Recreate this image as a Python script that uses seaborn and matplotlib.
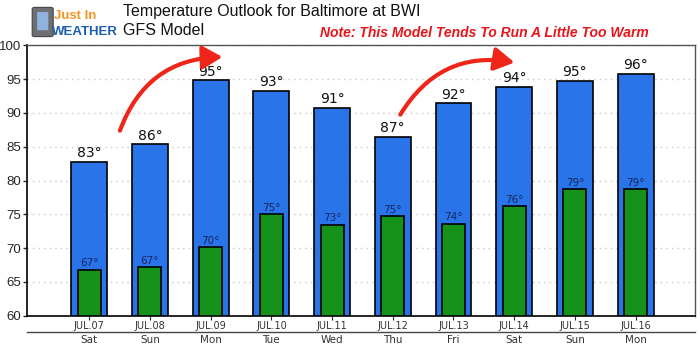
import pandas as pd
import seaborn as sns
import matplotlib.pyplot as plt
from matplotlib.patches import FancyArrowPatch, FancyBboxPatch

# Forecast values
dates = ['JUL.07', 'JUL.08', 'JUL.09', 'JUL.10', 'JUL.11',
         'JUL.12', 'JUL.13', 'JUL.14', 'JUL.15', 'JUL.16']
days = ['Sat', 'Sun', 'Mon', 'Tue', 'Wed', 'Thu', 'Fri', 'Sat', 'Sun', 'Mon']
highs = [82.8, 85.4, 94.9, 93.3, 90.8, 86.5, 91.5, 93.9, 94.8, 95.8]
lows = [66.8, 67.2, 70.1, 75.0, 73.5, 74.7, 73.6, 76.2, 78.7, 78.7]
high_labels = [83, 86, 95, 93, 91, 87, 92, 94, 95, 96]
low_labels = [67, 67, 70, 75, 73, 75, 74, 76, 79, 79]

df = pd.DataFrame({'date': dates, 'day': days, 'high': highs, 'low': lows})

sns.set_style('white')
plt.rcParams['font.family'] = ['DejaVu Sans']

fig = plt.figure(figsize=(7, 3.52), dpi=100)
ax = fig.add_axes([0.039, 0.103, 0.954, 0.768])

sns.barplot(data=df, x='date', y='high', color='#2a74ea', saturation=1,
            width=0.59, edgecolor='black', linewidth=1.2, ax=ax)
sns.barplot(data=df, x='date', y='low', color='#15921a', saturation=1,
            width=0.38, edgecolor='black', linewidth=1.2, ax=ax)

ax.set_ylim(60, 100)
ax.set_xlim(-1.02, 9.98)
ax.set_yticks(range(60, 101, 5))
ax.yaxis.grid(True, linestyle=(0, (1, 3)), color='#c8c8c8', linewidth=1)
ax.set_axisbelow(True)
ax.set_xlabel('')
ax.set_ylabel('')

for sp in ['left', 'bottom']:
    ax.spines[sp].set_color('black')
    ax.spines[sp].set_linewidth(1.2)
for sp in ['top', 'right']:
    ax.spines[sp].set_color('#555555')
    ax.spines[sp].set_linewidth(1)

ax.tick_params(axis='y', left=True, length=3, width=1, labelsize=9.5, pad=1.5)
for t in ax.get_yticklabels():
    t.set_family('Liberation Sans')
ax.tick_params(axis='x', bottom=True, length=3, width=0.8, labelsize=7, pad=1,
               labelcolor='#333333')

# value labels
for i in range(len(dates)):
    ax.text(i, highs[i] + 0.2, f"{high_labels[i]}\u00b0", ha='center',
            va='bottom', fontsize=10, color='#111111')
    ax.text(i, lows[i] + 0.2, f"{low_labels[i]}\u00b0", ha='center',
            va='bottom', fontsize=7.5, color='#15265e')

# second row of labels: day names
sec = ax.secondary_xaxis(-0.06)
sec.set_xticks(range(len(days)))
sec.set_xticklabels(days)
sec.tick_params(length=0, labelsize=7.5, pad=2.5, labelcolor='#333333')
sec.spines['bottom'].set_color('#444444')
sec.spines['bottom'].set_linewidth(1)

# red curved arrows
for (x0, y0), (x1, y1) in [((0.49, 87.0), (2.24, 98.3)), ((5.10, 89.4), (7.05, 97.4))]:
    arr = FancyArrowPatch((x0, y0), (x1, y1), connectionstyle='arc3,rad=-0.35',
                          arrowstyle='-|>,head_length=6,head_width=3.5',
                          color='#ee2518', linewidth=3, mutation_scale=2,
                          clip_on=False, zorder=5)
    ax.add_patch(arr)

# header
fig.text(0.176, 0.968, 'Temperature Outlook for Baltimore at BWI',
         fontsize=11.5, family='Liberation Sans', va='center', color='#111111')
fig.text(0.176, 0.912, 'GFS Model', fontsize=11.5, family='Liberation Sans',
         va='center', color='#111111')
fig.text(0.927, 0.905, 'Note: This Model Tends To Run A Little Too Warm',
         fontsize=10, family='Liberation Sans', fontweight='bold',
         fontstyle='italic', color='#e8141a', va='center', ha='right')

# logo
phone = FancyBboxPatch((0.050, 0.90), 0.022, 0.075, boxstyle='round,pad=0.004',
                       transform=fig.transFigure, facecolor='#6d6f73',
                       edgecolor='#444444', linewidth=0.8)
screen = FancyBboxPatch((0.054, 0.915), 0.014, 0.05, boxstyle='round,pad=0.001',
                        transform=fig.transFigure, facecolor='#8fb3dd',
                        edgecolor='none')
fig.add_artist(phone)
fig.add_artist(screen)
fig.text(0.077, 0.955, 'Just In', fontsize=9.5, family='Liberation Sans',
         fontweight='bold', color='#f7941d', va='center')
fig.text(0.074, 0.908, 'WEATHER', fontsize=9.5, family='Liberation Sans',
         fontweight='bold', color='#1b5fae', va='center')

plt.savefig('out.png', dpi=100)
